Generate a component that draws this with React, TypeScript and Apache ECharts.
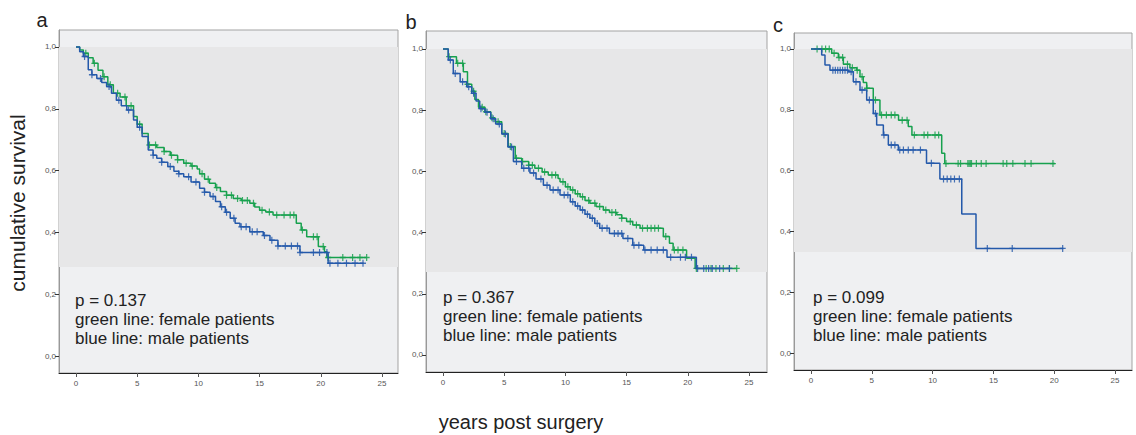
import React, { useEffect, useRef } from "react";
import * as echarts from "echarts";

// ---------- labels ----------
const xTickValues = [0, 5, 10, 15, 20, 25];
const yTickValues = [0, 0.2, 0.4, 0.6, 0.8, 1.0];
const panelLetters = ["a", "b", "c"];
const panelTitles = ["total", "open", "laparoscopic"];
const pValues = ["p = 0.137", "p = 0.367", "p = 0.099"];
const legendLines = ["green line: female patients", "blue line: male patients"];
const yAxisTitle = "cumulative survival";
const xAxisTitle = "years post surgery";
// lower edge of the shaded band (lowest survival reached)
const bandLow = [0.288, 0.271, 0.332];

// ---------- Kaplan-Meier step points [years, survival] ----------
const totalFemale = [
  [0, 1], [0.3, 0.99], [0.6, 0.98], [1.0, 0.965], [1.4, 0.947], [1.8, 0.925], [2.2, 0.904],
  [2.6, 0.878], [3.05, 0.85], [3.6, 0.838], [4.1, 0.81], [4.7, 0.775], [5.0, 0.75], [5.4, 0.72],
  [5.9, 0.683], [6.6, 0.675], [7.2, 0.662], [7.7, 0.65], [8.3, 0.635], [8.8, 0.624], [9.4, 0.615],
  [9.9, 0.605], [10.1, 0.59], [10.5, 0.572], [10.9, 0.559], [11.4, 0.545], [11.8, 0.532],
  [12.3, 0.52], [12.85, 0.51], [13.5, 0.503], [14.2, 0.494], [14.6, 0.482], [15.0, 0.472],
  [15.5, 0.466], [16.1, 0.456], [18.0, 0.43], [18.4, 0.408], [18.85, 0.386], [19.8, 0.354],
  [20.3, 0.337], [20.5, 0.319], [23.75, 0.319],
];
const totalMale = [
  [0, 1], [0.3, 0.985], [0.6, 0.969], [1.0, 0.926], [1.3, 0.91], [1.7, 0.898], [2.1, 0.885],
  [2.5, 0.872], [2.9, 0.85], [3.3, 0.828], [3.7, 0.81], [4.15, 0.796], [4.7, 0.764], [5.0, 0.74],
  [5.4, 0.71], [5.9, 0.667], [6.3, 0.65], [6.6, 0.64], [7.0, 0.627], [7.5, 0.613], [8.0, 0.598],
  [8.4, 0.59], [8.8, 0.58], [9.4, 0.563], [10.1, 0.543], [10.5, 0.53], [10.95, 0.516], [11.4, 0.5],
  [11.8, 0.483], [12.2, 0.465], [12.6, 0.446], [13.0, 0.43], [13.4, 0.418], [14.2, 0.402],
  [15.3, 0.39], [15.85, 0.375], [16.5, 0.356], [18.3, 0.335], [20.6, 0.3], [23.5, 0.3],
];
const openFemale = [
  [0, 1], [0.43, 0.975], [1.1, 0.953], [1.66, 0.926], [2.0, 0.885], [2.35, 0.862], [2.6, 0.835],
  [2.9, 0.81], [3.43, 0.795], [3.9, 0.775], [4.25, 0.762], [4.8, 0.724], [5.33, 0.681],
  [5.9, 0.643], [6.43, 0.632], [7.0, 0.62], [7.5, 0.61], [8.1, 0.598], [8.6, 0.588], [9.4, 0.577],
  [9.56, 0.566], [10.0, 0.55], [10.4, 0.539], [10.8, 0.527], [11.2, 0.517], [11.6, 0.505],
  [12.0, 0.496], [12.5, 0.485], [13.1, 0.474], [13.6, 0.466], [14.2, 0.458], [14.6, 0.447],
  [15.0, 0.436], [15.5, 0.425], [16.1, 0.414], [18.0, 0.387], [18.5, 0.365], [18.8, 0.343],
  [19.9, 0.316], [20.6, 0.283], [24.0, 0.283],
];
const openMale = [
  [0, 1], [0.43, 0.964], [0.84, 0.92], [1.4, 0.893], [1.94, 0.877], [2.35, 0.855], [2.7, 0.83],
  [3.0, 0.805], [3.43, 0.793], [3.9, 0.772], [4.3, 0.755], [4.8, 0.722], [5.3, 0.68],
  [5.75, 0.632], [6.43, 0.61], [7.1, 0.595], [7.6, 0.575], [8.2, 0.555], [8.74, 0.539],
  [9.56, 0.523], [10.4, 0.501], [10.8, 0.487], [11.2, 0.474], [11.6, 0.46], [12.0, 0.447],
  [12.4, 0.43], [12.8, 0.414], [13.6, 0.397], [14.7, 0.381], [15.5, 0.359], [16.4, 0.343],
  [18.3, 0.319], [20.7, 0.283], [23.4, 0.283],
];
const laparoFemale = [
  [0, 1], [1.7, 0.986], [2.25, 0.972], [2.66, 0.95], [3.2, 0.938], [3.76, 0.93], [4.03, 0.909],
  [4.3, 0.89], [4.58, 0.871], [5.12, 0.832], [5.67, 0.783], [7.2, 0.766], [8.0, 0.745],
  [8.3, 0.717], [10.75, 0.657], [11.0, 0.623], [20.07, 0.623],
];
const laparoMale = [
  [0, 1], [0.88, 0.98], [1.15, 0.947], [1.56, 0.93], [3.07, 0.925], [3.48, 0.892], [4.03, 0.865],
  [4.58, 0.832], [5.12, 0.788], [5.4, 0.75], [5.95, 0.717], [6.36, 0.684], [7.18, 0.668],
  [9.5, 0.624], [10.6, 0.572], [12.4, 0.457], [13.57, 0.344], [20.75, 0.344],
];

// ---------- censoring times (years) ----------
const totalFemaleCens = [0.8, 1.5, 2.3, 2.8, 3.4, 4.0, 4.5, 5.2, 6.0, 6.5, 7.2, 7.8, 8.3, 9.0, 9.5,
  10.3, 10.8, 11.5, 12.3, 12.7, 13.2, 13.6, 14.0, 14.5, 15.2, 15.8, 16.4, 17.0, 17.5, 17.8, 18.5,
  19.4, 19.7, 20.2, 20.6, 21.8, 22.6, 23.2, 23.75];
const totalMaleCens = [0.7, 1.3, 2.0, 2.7, 3.5, 4.3, 5.2, 6.3, 7.0, 7.7, 8.4, 9.2, 9.8, 10.5, 11.2,
  11.9, 12.3, 12.9, 13.5, 13.9, 14.4, 14.8, 15.4, 16.0, 16.5, 17.1, 17.6, 18.1, 18.3, 19.4, 19.9,
  20.5, 20.75, 21.4, 22.1, 22.8, 23.45];
const openFemaleCens = [0.5, 1.2, 1.6, 2.0, 2.5, 3.2, 3.5, 4.0, 4.5, 5.0, 5.5, 6.0, 6.5, 7.0, 7.3,
  7.8, 8.3, 8.9, 9.2, 9.8, 10.2, 10.6, 11.0, 11.4, 11.9, 12.4, 12.8, 13.3, 13.8, 14.1, 14.6, 15.3,
  15.8, 16.3, 16.7, 17.0, 17.3, 17.6, 18.2, 18.9, 19.2, 19.6, 20.7, 21.5, 21.9, 22.3, 22.9, 23.4, 24.0];
const openMaleCens = [0.6, 1.0, 1.6, 2.1, 2.5, 3.1, 3.6, 4.1, 4.6, 5.1, 5.6, 6.0, 6.6, 7.0, 7.4,
  8.0, 8.5, 9.0, 9.4, 9.9, 10.2, 10.6, 11.0, 11.4, 11.8, 12.2, 12.6, 13.0, 13.4, 14.0, 14.3, 14.6,
  15.1, 15.6, 16.0, 16.5, 17.0, 17.5, 18.0, 18.6, 19.4, 19.8, 20.3, 20.8, 21.3, 21.7, 22.0, 22.6, 23.4];
const laparoFemaleCens = [0.5, 0.9, 1.2, 1.5, 1.9, 2.3, 2.6, 3.0, 3.4, 3.8, 4.2, 4.6, 5.3, 5.8, 6.2,
  6.6, 6.9, 7.5, 7.9, 8.5, 9.3, 9.6, 10.2, 10.5, 11.1, 12.1, 12.3, 12.9, 13.0, 13.1, 13.2, 13.6,
  14.0, 14.4, 15.8, 16.1, 16.6, 17.6, 18.1, 19.9];
const laparoMaleCens = [1.8, 2.0, 2.2, 2.4, 2.6, 2.8, 3.0, 3.3, 3.7, 4.2, 4.8, 5.3, 6.0, 6.6, 6.9,
  7.3, 7.6, 8.0, 8.4, 9.0, 9.9, 10.9, 11.2, 11.5, 11.8, 12.2, 14.5, 16.55, 20.7];

const femaleCurves = [totalFemale, openFemale, laparoFemale];
const maleCurves = [totalMale, openMale, laparoMale];
const femaleCens = [totalFemaleCens, openFemaleCens, laparoFemaleCens];
const maleCens = [totalMaleCens, openMaleCens, laparoMaleCens];

// ---------- layout (pixels / axis extents) ----------
const layout = [
  { left: 59, top: 30, width: 339, height: 343, xMin: -1.39, xMax: 26.31, yMin: -0.055, yMax: 1.055,
    letter: [42, 20], title: [326, 65], note: [75, 300] },
  { left: 426, top: 31, width: 341, height: 341, xMin: -1.389, xMax: 26.47, yMin: -0.0556, yMax: 1.0588,
    letter: [411, 22], title: [685, 60], note: [443, 297] },
  { left: 794, top: 33, width: 338, height: 337, xMin: -1.398, xMax: 26.4, yMin: -0.0559, yMax: 1.0526,
    letter: [778, 25], title: [982, 64], note: [813, 297] },
];

const GREEN = "#17a14e";
const BLUE = "#2459aa";
const PLUS = "path://M2,0H3V2H5V3H3V5H2V3H0V2H2Z";
const FONT = "Liberation Sans, Arial, sans-serif";

function survivalAt(curve: number[][], t: number): number {
  let s = curve[0][1];
  for (const p of curve) {
    if (p[0] <= t + 1e-9) s = p[1];
    else break;
  }
  return s;
}

export default function App() {
  const ref = useRef<HTMLDivElement>(null);
  useEffect(() => {
    if (!ref.current) return;
    const chart = echarts.init(ref.current, null, { renderer: "svg" });
    const grids: any[] = [];
    const xAxes: any[] = [];
    const yAxes: any[] = [];
    const series: any[] = [];
    const graphics: any[] = [];

    layout.forEach((L, i) => {
      grids.push({
        left: L.left, top: L.top, width: L.width, height: L.height,
        show: true, backgroundColor: "#eff0f2", borderColor: "#a3a3a3", borderWidth: 1,
      });
      xAxes.push({
        type: "value", gridIndex: i, min: L.xMin, max: L.xMax,
        axisLine: { show: true, onZero: false, lineStyle: { color: "#222", width: 1 } },
        axisTick: { show: true, customValues: xTickValues, length: 4, lineStyle: { color: "#555" } },
        axisLabel: { customValues: xTickValues, fontSize: 8, color: "#555", margin: 6, fontFamily: FONT },
        splitLine: { show: false },
      });
      yAxes.push({
        type: "value", gridIndex: i, min: L.yMin, max: L.yMax,
        axisLine: { show: true, onZero: false, lineStyle: { color: "#999", width: 1 } },
        axisTick: { show: true, customValues: yTickValues, length: 4, lineStyle: { color: "#333" } },
        axisLabel: {
          customValues: yTickValues, fontSize: 8, color: "#555", margin: 3, fontFamily: FONT,
          formatter: (v: number) => v.toFixed(1).replace(".", ","),
        },
        splitLine: { show: false },
      });
      // shaded band
      series.push({
        type: "line", xAxisIndex: i, yAxisIndex: i, data: [], z: 1, silent: true,
        markArea: {
          silent: true,
          itemStyle: { color: "#e7e7e8" },
          data: [[{ xAxis: L.xMin, yAxis: bandLow[i] }, { xAxis: L.xMax, yAxis: 1.0 }]],
        },
      });
      const curves = [
        { c: femaleCurves[i], cens: femaleCens[i], color: GREEN },
        { c: maleCurves[i], cens: maleCens[i], color: BLUE },
      ];
      curves.forEach((cv, k) => {
        series.push({
          type: "line", xAxisIndex: i, yAxisIndex: i, step: "end", data: cv.c,
          showSymbol: false, symbol: "none", z: 3 + k,
          lineStyle: { color: cv.color, width: 1.5 }, silent: true,
        });
        series.push({
          type: "scatter", xAxisIndex: i, yAxisIndex: i, z: 3 + k,
          data: cv.cens.map((t) => [t, survivalAt(cv.c, t)]),
          symbol: PLUS, symbolSize: [6, 7],
          itemStyle: { color: cv.color, opacity: 0.85 }, silent: true,
        });
      });

      graphics.push({
        type: "text", x: L.letter[0], y: L.letter[1],
        style: { text: panelLetters[i], font: `20px ${FONT}`, fill: "#222", align: "center", verticalAlign: "middle" },
      });
      graphics.push({
        type: "text", x: L.title[0], y: L.title[1],
        style: { text: panelTitles[i], font: `20px ${FONT}`, fill: "#222", align: "left", verticalAlign: "middle" },
      });
      const lines = [pValues[i], ...legendLines];
      lines.forEach((t, j) => {
        graphics.push({
          type: "text", x: L.note[0], y: L.note[1] + j * 19,
          style: { text: t, font: `17px ${FONT}`, fill: "#222", align: "left", verticalAlign: "middle" },
        });
      });
    });

    graphics.push({
      type: "text", x: 17, y: 203, rotation: Math.PI / 2,
      style: { text: yAxisTitle, font: `21px ${FONT}`, fill: "#222", align: "center", verticalAlign: "middle" },
    });
    graphics.push({
      type: "text", x: 521, y: 422,
      style: { text: xAxisTitle, font: `20px ${FONT}`, fill: "#222", align: "center", verticalAlign: "middle" },
    });

    chart.setOption({
      animation: false,
      backgroundColor: "#ffffff",
      grid: grids,
      xAxis: xAxes,
      yAxis: yAxes,
      series,
      graphic: graphics,
    });
    return () => chart.dispose();
  }, []);

  return (
    <div
      ref={ref}
      style={{ position: "fixed", left: 0, top: 0, width: 1136, height: 435 }}
    />
  );
}
